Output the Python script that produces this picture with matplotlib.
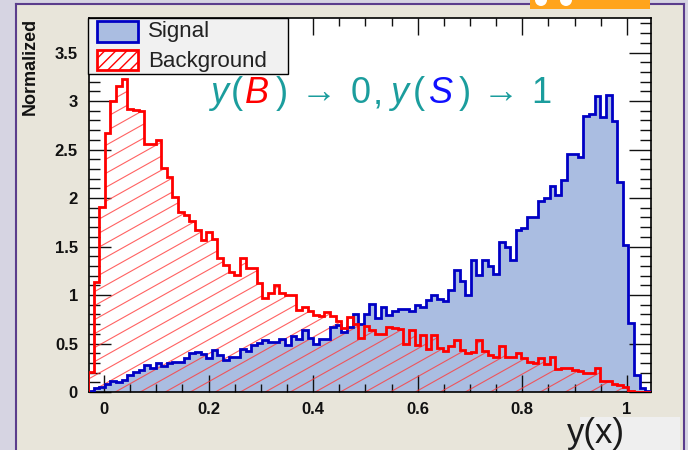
import numpy as np
import matplotlib
matplotlib.use('Agg')
import matplotlib.pyplot as plt
from matplotlib.patches import Rectangle, Ellipse
from matplotlib.collections import LineCollection
from matplotlib.ticker import MultipleLocator, FuncFormatter

plt.rcParams['font.family'] = ['Liberation Sans', 'DejaVu Sans']

# 100 bins of the classifier output y(x)
x_min, x_max, n_bins = -0.0307, 1.0463, 100

signal = [
    0.01, 0.04, 0.05, 0.08, 0.11, 0.10, 0.12, 0.175, 0.21, 0.23,
    0.28, 0.25, 0.30, 0.27, 0.30, 0.31, 0.31, 0.35, 0.40, 0.41,
    0.39, 0.35, 0.43, 0.38, 0.33, 0.36, 0.36, 0.44, 0.42, 0.48,
    0.51, 0.54, 0.52, 0.52, 0.55, 0.48, 0.58, 0.55, 0.64, 0.56,
    0.50, 0.55, 0.55, 0.67, 0.69, 0.62, 0.67, 0.80, 0.70, 0.80,
    0.91, 0.76, 0.88, 0.79, 0.83, 0.86, 0.86, 0.83, 0.90, 0.88,
    0.95, 1.00, 0.96, 0.94, 1.05, 1.26, 1.14, 1.00, 1.36, 1.21,
    1.36, 1.30, 1.22, 1.55, 1.50, 1.36, 1.67, 1.69, 1.80, 1.80,
    1.97, 2.00, 2.12, 2.03, 2.19, 2.45, 2.45, 2.42, 2.85, 2.87,
    3.05, 2.84, 3.06, 2.79, 2.17, 1.52, 0.71, 0.175, 0.04, 0.01,
]

background = [
    0.21, 1.13, 1.91, 2.67, 3.00, 3.16, 3.23, 2.92, 2.91, 2.90,
    2.56, 2.56, 2.60, 2.31, 2.22, 2.01, 1.86, 1.82, 1.76, 1.67,
    1.57, 1.65, 1.58, 1.38, 1.31, 1.24, 1.21, 1.38, 1.28, 1.28,
    1.12, 0.97, 1.02, 1.10, 1.02, 1.00, 1.00, 0.85, 0.88, 0.83,
    0.79, 0.78, 0.82, 0.78, 0.73, 0.66, 0.77, 0.70, 0.56, 0.68,
    0.64, 0.60, 0.60, 0.67, 0.66, 0.65, 0.50, 0.64, 0.48, 0.59,
    0.44, 0.59, 0.45, 0.42, 0.47, 0.54, 0.43, 0.40, 0.41, 0.54,
    0.42, 0.38, 0.36, 0.47, 0.36, 0.36, 0.40, 0.35, 0.31, 0.30,
    0.35, 0.29, 0.36, 0.24, 0.25, 0.25, 0.23, 0.22, 0.20, 0.20,
    0.25, 0.11, 0.11, 0.08, 0.07, 0.05, 0.01, 0.0, 0.0, 0.0,
]

W, H = 688, 450
beige = '#e8e5da'
teal = '#1b9d9d'


def fx(px):
    return px / W


def fy(py):
    return 1 - py / H


fig = plt.figure(figsize=(W / 100, H / 100), dpi=100, facecolor=beige)
ax = fig.add_axes([fx(89), fy(392), fx(651) - fx(89), fy(18) - fy(392)])

edges = np.linspace(x_min, x_max, n_bins + 1)
ax.set_xlim(-0.0287, x_max)
ax.set_ylim(0, 3.856)

ax.stairs(signal, edges, fill=True, facecolor='#aabde1', edgecolor='none', zorder=1)

# background hatch, drawn as slanted lines clipped to the histogram shape
bkg_shape = ax.stairs(background, edges, fill=True, facecolor='none', edgecolor='none', zorder=2)
p0 = ax.transData.transform((0, 0))
p1 = ax.transData.transform((1, 1))
sx, sy = p1[0] - p0[0], p1[1] - p0[1]
slope = 0.56 * sx / sy
step = 14.0 / sy
segs = []
for c in np.arange(-slope * 1.2, 4.0, step):
    segs.append([(x_min, c), (x_max, c + slope * (x_max - x_min))])
hatch = LineCollection(segs, colors='#ff3b3b', linewidths=0.8, alpha=0.8, zorder=2)
ax.add_collection(hatch)
hatch.set_clip_path(bkg_shape)

ax.stairs(signal, edges, color='#0000c4', linewidth=2, zorder=3)
ax.stairs(background, edges, color='#ff0000', linewidth=2, zorder=4)

# ROOT-like frame and ticks
for s in ax.spines.values():
    s.set_linewidth(1.2)
ax.xaxis.set_major_locator(MultipleLocator(0.2))
ax.xaxis.set_minor_locator(MultipleLocator(0.05))
ax.yaxis.set_major_locator(MultipleLocator(0.5))
ax.yaxis.set_minor_locator(MultipleLocator(0.1))
fmt = FuncFormatter(lambda v, pos: f'{round(v, 3):g}')
ax.xaxis.set_major_formatter(fmt)
ax.yaxis.set_major_formatter(fmt)
ax.tick_params(which='both', direction='in', top=True, right=True, width=1, colors='#111111')
ax.tick_params(axis='x', which='major', length=12, pad=7)
ax.tick_params(axis='x', which='minor', length=6)
ax.tick_params(axis='y', which='major', length=16, pad=8)
ax.tick_params(axis='y', which='minor', length=8)
for lab in ax.get_xticklabels() + ax.get_yticklabels():
    lab.set_fontweight('bold')
    lab.set_fontsize(12)

fig.text(fx(30), fy(18), 'Normalized', rotation=90, ha='center', va='top',
         fontsize=13, fontweight='bold', color='#111111')

# legend box in the top-left corner of the frame
fig.add_artist(Rectangle((fx(88), fy(74)), fx(288) - fx(88), fy(18) - fy(74),
                         transform=fig.transFigure, facecolor='#f1f1f1',
                         edgecolor='black', linewidth=1, zorder=5))
fig.add_artist(Rectangle((fx(97), fy(42)), fx(138) - fx(97), fy(21) - fy(42),
                         transform=fig.transFigure, facecolor='#aabde1',
                         edgecolor='#0000c4', linewidth=2, zorder=6))
fig.add_artist(Rectangle((fx(97), fy(70)), fx(138) - fx(97), fy(50) - fy(70),
                         transform=fig.transFigure, facecolor='white', hatch='///',
                         edgecolor='#ff0000', linewidth=2, zorder=6))
fig.text(fx(148), fy(32), 'Signal', ha='left', va='center', fontsize=16, color='#222222', zorder=7)
fig.text(fx(148), fy(61), 'Background', ha='left', va='center', fontsize=16, color='#222222', zorder=7)

# y(B) -> 0, y(S) -> 1, each glyph centred where it sits in the reference
pieces = [
    ('y', 219, teal, 'italic'), ('(', 237, teal, 'normal'), ('B', 257, '#ff0000', 'italic'),
    (')', 282, teal, 'normal'), ('\u2192', 319, teal, 'normal'), ('0', 361, teal, 'normal'),
    (',', 378, teal, 'normal'), ('y', 399, teal, 'italic'), ('(', 419, teal, 'normal'),
    ('S', 441, '#1010ff', 'italic'), (')', 465, teal, 'normal'), ('\u2192', 501, teal, 'normal'),
    ('1', 541, teal, 'normal'),
]
for txt, xp, col, style in pieces:
    fig.text(fx(xp), fy(103), txt, ha='center', va='baseline', fontsize=26,
             color=col, style=style, zorder=7)

# slide decorations around the plot
fig.add_artist(Rectangle((0, 0), fx(15), 1, transform=fig.transFigure,
                         facecolor='#d6d4e2', edgecolor='none', zorder=-1))
fig.add_artist(Rectangle((fx(685), 0), 1 - fx(685), 1, transform=fig.transFigure,
                         facecolor='#d6d4e2', edgecolor='none', zorder=-1))
fig.add_artist(Rectangle((0, fy(3)), 1, 1 - fy(3), transform=fig.transFigure,
                         facecolor='#d6d4e2', edgecolor='none', zorder=-1))
fig.add_artist(plt.Line2D([fx(16), fx(16)], [0, fy(3.5)], transform=fig.transFigure,
                          color='#5b3d8c', linewidth=1.5))
fig.add_artist(plt.Line2D([fx(684), fx(684)], [0, fy(3.5)], transform=fig.transFigure,
                          color='#5b3d8c', linewidth=1.5))
fig.add_artist(plt.Line2D([fx(16), fx(684)], [fy(3.5), fy(3.5)], transform=fig.transFigure,
                          color='#5b3d8c', linewidth=1.5))
fig.add_artist(Rectangle((fx(530), fy(9)), fx(650) - fx(530), fy(0) - fy(9),
                         transform=fig.transFigure, facecolor='#ffa41c', edgecolor='none', zorder=2))
for cx in (541, 566):
    fig.add_artist(Ellipse((fx(cx), fy(0)), fx(12), fy(0) - fy(12), transform=fig.transFigure,
                           facecolor='white', edgecolor='none', zorder=3))

fig.add_artist(Rectangle((fx(580), 0), fx(680) - fx(580), fy(417), transform=fig.transFigure,
                         facecolor='#efefef', edgecolor='none', zorder=1))
fig.text(fx(567), fy(443), 'y(x)', ha='left', va='baseline', fontsize=25, color='#1a1a1a', zorder=3)

fig.savefig('out.png', dpi=100, facecolor=beige)
